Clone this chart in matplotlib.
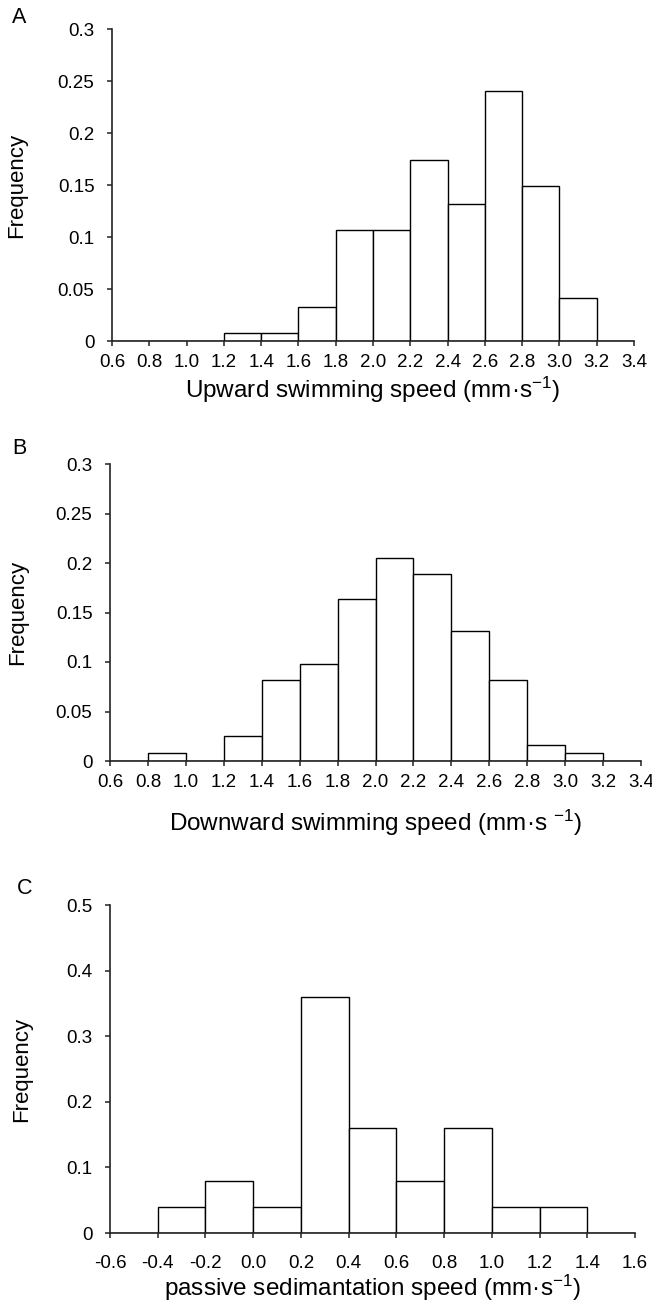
import matplotlib
matplotlib.use("Agg")
import matplotlib.pyplot as plt

plt.rcParams['font.family'] = ['Liberation Sans', 'DejaVu Sans']
plt.rcParams['mathtext.fontset'] = 'custom'
plt.rcParams['mathtext.rm'] = 'Liberation Sans'
plt.rcParams['mathtext.default'] = 'regular'

# bin left edges (width 0.2) and relative frequencies
up_edges = [0.6, 0.8, 1.0, 1.2, 1.4, 1.6, 1.8, 2.0, 2.2, 2.4, 2.6, 2.8, 3.0, 3.2]
up_freq = [0, 0, 0, 0.008, 0.008, 0.033, 0.107, 0.107, 0.174, 0.132, 0.240, 0.149, 0.041, 0]

down_edges = [0.6, 0.8, 1.0, 1.2, 1.4, 1.6, 1.8, 2.0, 2.2, 2.4, 2.6, 2.8, 3.0, 3.2]
down_freq = [0, 0.008, 0, 0.025, 0.082, 0.098, 0.164, 0.205, 0.189, 0.131, 0.082, 0.016, 0.008, 0]

sed_edges = [-0.6, -0.4, -0.2, 0.0, 0.2, 0.4, 0.6, 0.8, 1.0, 1.2, 1.4]
sed_freq = [0, 0.04, 0.08, 0.04, 0.36, 0.16, 0.08, 0.16, 0.04, 0.04, 0]

swim_xticks = [0.6, 0.8, 1.0, 1.2, 1.4, 1.6, 1.8, 2.0, 2.2, 2.4, 2.6, 2.8, 3.0, 3.2, 3.4]
swim_xlabels = ["0.6", "0.8", "1.0", "1.2", "1.4", "1.6", "1.8", "2.0", "2.2", "2.4",
                "2.6", "2.8", "3.0", "3.2", "3.4"]
swim_yticks = [0, 0.05, 0.1, 0.15, 0.2, 0.25, 0.3]
swim_ylabels = ["0", "0.05", "0.1", "0.15", "0.2", "0.25", "0.3"]

sed_xticks = [-0.6, -0.4, -0.2, 0.0, 0.2, 0.4, 0.6, 0.8, 1.0, 1.2, 1.4, 1.6]
sed_xlabels = ["-0.6", "-0.4", "-0.2", "0.0", "0.2", "0.4", "0.6", "0.8", "1.0", "1.2", "1.4", "1.6"]
sed_yticks = [0, 0.1, 0.2, 0.3, 0.4, 0.5]
sed_ylabels = ["0", "0.1", "0.2", "0.3", "0.4", "0.5"]

W, H = 652, 1309
fig = plt.figure(figsize=(W / 100, H / 100), dpi=100)


def px_axes(l, r, t, b):
    return fig.add_axes([l / W, 1 - b / H, (r - l) / W, (b - t) / H])


def panel(ax, edges, freq, xticks, xlabels, yticks, ylabels, xlabel, xpad, xlab_y, ylab_x):
    ax.bar(edges, freq, width=0.2, align='edge', color='white', edgecolor='black', linewidth=1.0)
    ax.set_xlim(xticks[0], xticks[-1])
    ax.set_ylim(yticks[0], yticks[-1])
    ax.set_xticks(xticks)
    ax.set_xticklabels(xlabels)
    ax.set_yticks(yticks)
    ax.set_yticklabels(ylabels)
    for s in ['top', 'right']:
        ax.spines[s].set_visible(False)
    for s in ['left', 'bottom']:
        ax.spines[s].set_linewidth(1.2)
        ax.spines[s].set_color('#222222')
    ax.tick_params(axis='both', length=3.6, width=1.1, color='#222222', labelsize=13.5)
    ax.tick_params(axis='x', pad=xpad)
    ax.tick_params(axis='y', pad=9)
    ax.set_xlabel(xlabel, fontsize=17.5, va='center')
    ax.xaxis.set_label_coords(0.5, xlab_y)
    ax.set_ylabel("Frequency", fontsize=16, va='center')
    ax.yaxis.set_label_coords(ylab_x, 0.5)


axA = px_axes(112, 634, 29, 341)
panel(axA, up_edges, up_freq, swim_xticks, swim_xlabels, swim_yticks, swim_ylabels,
      "Upward swimming speed (mm·s$^{-1}$)", 6, (341 - 390) / 312, (17 - 112) / 522)

axB = px_axes(110, 641, 464, 761)
panel(axB, down_edges, down_freq, swim_xticks, swim_xlabels, swim_yticks, swim_ylabels,
      "Downward swimming speed (mm·s $^{-1}$)", 5.5, (761 - 823) / 297, (18 - 110) / 531)

axC = px_axes(110, 635, 905, 1233)
panel(axC, sed_edges, sed_freq, sed_xticks, sed_xlabels, sed_yticks, sed_ylabels,
      "passive sedimantation speed (mm·s$^{-1}$)", 12.5, (1233 - 1288) / 328, (22 - 110) / 525)

for letter, x, y in [("A", 19.5, 17.5), ("B", 19.5, 448), ("C", 25, 888)]:
    fig.text(x / W, 1 - y / H, letter, fontsize=15.5, ha='center', va='center')

fig.savefig("out.png", dpi=100)
